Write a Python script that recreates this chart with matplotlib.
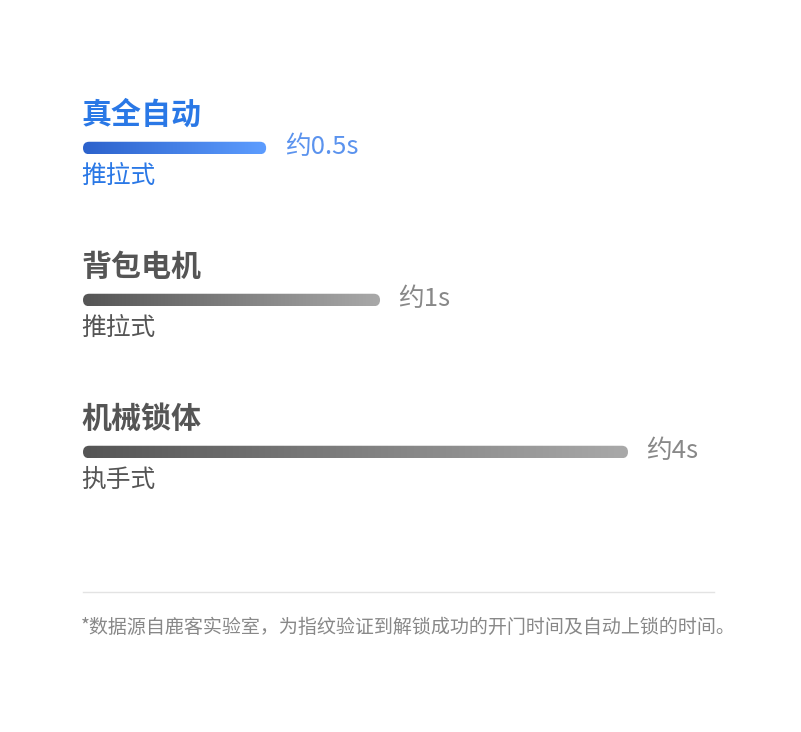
import numpy as np
import matplotlib
matplotlib.use('Agg')
import matplotlib.pyplot as plt
from matplotlib.patches import FancyBboxPatch
from matplotlib.colors import LinearSegmentedColormap
from matplotlib.lines import Line2D

plt.rcParams['font.family'] = ['Noto Sans CJK SC', 'DejaVu Sans']

## Data ##
names = ['真全自动', '背包电机', '机械锁体']
types = ['推拉式', '推拉式', '执手式']
time_labels = ['约0.5s', '约1s', '约4s']
bar_lengths = [33.6, 54.5, 100.0]   # displayed length, % of the longest bar
note = '*数据源自鹿客实验室，为指纹验证到解锁成功的开门时间及自动上锁的时间。'

## Styles ##
W, H = 801, 732
bar_h_px = 12.5
grad_colors = [('#2c62cc', '#5d9dff'), ('#555555', '#a9a9a9'), ('#555555', '#a9a9a9')]
title_colors = ['#2a78e6', '#555555', '#555555']
sub_colors = ['#2a78e6', '#555555', '#555555']
label_colors = ['#5b93ee', '#888888', '#888888']

fig = plt.figure(figsize=(W / 100, H / 100), dpi=100)
fig.patch.set_facecolor('white')

# bars axis: x 0..100 spans pixels 83..628, rows 152 px apart starting at y=148
x0_px, x1_px = 83, 628
row0_px, row_px = 148, 152
ax = fig.add_axes([x0_px / W, 0, (x1_px - x0_px) / W, 1])
ax.set_xlim(0, 100)
ax.set_ylim((H - row0_px) / row_px, -row0_px / row_px)
ax.axis('off')

px_x = 100 / (x1_px - x0_px)    # data units per pixel (x)
px_y = 1 / row_px               # data units per pixel (y)
bh = bar_h_px * px_y
pt = 0.72                       # points per pixel at dpi 100

grad = np.linspace(0, 1, 256).reshape(1, -1)

for i in range(len(names)):
    y = i
    L = bar_lengths[i]
    cmap = LinearSegmentedColormap.from_list('g%d' % i, grad_colors[i])
    patch = FancyBboxPatch((0, y - bh / 2), L, bh,
                           boxstyle='round,pad=0,rounding_size=%f' % (bar_h_px / 2 * px_x),
                           mutation_aspect=px_y / px_x,
                           facecolor='none', edgecolor='none')
    ax.add_patch(patch)
    im = ax.imshow(grad, cmap=cmap, aspect='auto',
                   extent=[0, L, y + bh / 2, y - bh / 2], interpolation='bilinear')
    im.set_clip_path(patch)

    ax.annotate(names[i], (0, y), xytext=(-1.5 * pt, 33 * pt), textcoords='offset points',
                ha='left', va='center', fontsize=21.6, fontweight='bold',
                color=title_colors[i], annotation_clip=False)
    ax.annotate(types[i], (0, y), xytext=(-1.5 * pt, -28 * pt), textcoords='offset points',
                ha='left', va='center', fontsize=17.8, fontweight='medium',
                color=sub_colors[i], annotation_clip=False)
    ax.annotate(time_labels[i], (L, y), xytext=(18.5 * pt, 1 * pt), textcoords='offset points',
                ha='left', va='center', fontsize=18.5, fontweight='medium',
                color=label_colors[i], annotation_clip=False)

# separator and footnote
fig.add_artist(Line2D([83 / W, 714 / W], [1 - 592 / H, 1 - 592 / H],
                      color='#e3e3e3', linewidth=1))
fig.text(81 / W, 1 - 627 / H, note, ha='left', va='center', fontsize=13.7,
         fontweight='medium', color='#888888')

fig.savefig('out.png', dpi=100, facecolor='white')
